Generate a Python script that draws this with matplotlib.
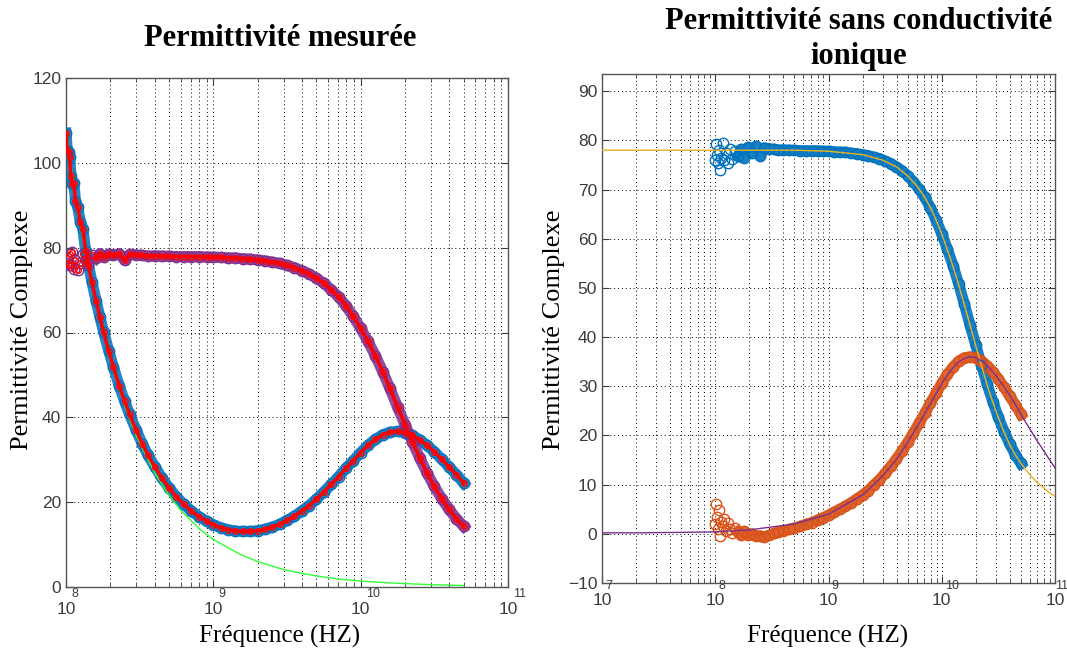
import math
import matplotlib
matplotlib.use("Agg")
import matplotlib.pyplot as plt
from matplotlib.ticker import LogLocator, FixedLocator, FixedFormatter, NullFormatter
from matplotlib.transforms import blended_transform_factory, offset_copy

# ---------------- data (frequencies in GHz) ----------------
freq_ghz = [0.100, 0.102, 0.104, 0.106, 0.108, 0.110, 0.113, 0.116, 0.120, 0.125,
            0.130, 0.136, 0.142, 0.150, 0.160, 0.170, 0.180, 0.195, 0.21, 0.23,
            0.25, 0.27, 0.30, 0.33, 0.36, 0.40, 0.45, 0.50, 0.56, 0.63,
            0.71, 0.80, 0.90, 1.00, 1.12, 1.26, 1.41, 1.58, 1.78, 2.00,
            2.24, 2.51, 2.82, 3.16, 3.55, 3.98, 4.47, 5.01, 5.62, 6.31,
            7.08, 7.94, 8.91, 10.0, 11.2, 12.6, 14.1, 15.8, 17.8, 20.0,
            22.4, 25.1, 28.2, 31.6, 35.5, 39.8, 44.7, 50.0]

# left panel: measured permittivity
meas_real = [76.5, 77.5, 75.8, 78.5, 76.0, 79.0, 75.0, 77.0, 74.8, 76.5,
             78.5, 77.2, 76.0, 78.3, 77.5, 78.6, 77.8, 78.5, 78.2, 78.6,
             77.0, 78.4, 78.3, 78.2, 78.0, 78.1, 78.0, 78.0, 77.9, 77.9,
             77.9, 77.9, 77.8, 77.8, 77.7, 77.6, 77.6, 77.4, 77.3, 77.1,
             76.9, 76.6, 76.3, 75.8, 75.3, 74.6, 73.8, 72.8, 71.6, 70.1,
             68.4, 66.3, 63.8, 61.0, 57.9, 54.5, 50.8, 46.8, 42.4, 38.3,
             34.3, 30.5, 26.9, 23.7, 20.8, 18.3, 16.1, 14.3]
meas_imag = [107.0, 103.0, 102.6, 101.3, 97.0, 95.0, 95.2, 91.0, 89.7, 86.1,
             84.5, 79.2, 76.0, 71.9, 67.5, 63.6, 60.1, 55.7, 51.8, 47.4,
             43.8, 40.7, 36.9, 33.7, 31.1, 28.4, 25.6, 23.4, 21.3, 19.5,
             17.9, 16.6, 15.5, 14.7, 14.0, 13.5, 13.2, 13.1, 13.1, 13.3,
             13.6, 14.1, 14.8, 15.7, 16.7, 17.9, 19.2, 20.7, 22.4, 24.2,
             26.0, 28.0, 29.8, 31.7, 33.4, 34.8, 35.9, 36.5, 36.7, 36.4,
             35.8, 34.7, 33.4, 31.9, 30.1, 28.3, 26.5, 24.5]

# left panel: ionic conductivity term
cond_f_ghz = [0.1, 0.12, 0.15, 0.2, 0.25, 0.3, 0.4, 0.5, 0.6, 0.8, 1.0, 1.5,
              2.0, 3.0, 4.0, 5.0, 7.0, 10.0, 15.0, 20.0, 30.0, 50.0]
cond_v = [107.0, 89.0, 71.3, 53.5, 42.8, 35.7, 26.9, 21.6, 18.1, 13.8, 11.2, 7.8,
          6.0, 4.1, 3.2, 2.6, 1.9, 1.4, 1.0, 0.8, 0.55, 0.35]

# right panel: permittivity without ionic conductivity
corr_real = [76.0, 79.2, 77.0, 75.5, 78.0, 74.0, 76.5, 79.5, 76.0, 77.5,
             75.5, 78.3, 76.3, 77.8, 76.8, 78.2, 76.5, 78.6, 77.5, 78.8,
             76.8, 78.5, 78.3, 78.2, 78.0, 78.1, 78.0, 78.0, 77.9, 77.9,
             77.9, 77.9, 77.8, 77.8, 77.7, 77.6, 77.6, 77.4, 77.3, 77.1,
             76.9, 76.6, 76.3, 75.8, 75.3, 74.6, 73.8, 72.8, 71.6, 70.1,
             68.4, 66.3, 63.8, 61.0, 57.9, 54.5, 50.8, 46.8, 42.4, 38.3,
             34.3, 30.5, 26.9, 23.7, 20.8, 18.3, 16.1, 14.3]
corr_imag = [2.0, 6.0, 3.5, 1.0, 4.8, -0.5, 2.5, 1.5, 3.0, 0.5,
             2.2, 1.0, 0.2, 1.2, 0.3, -0.2, 0.5, -0.3, 0.0, -0.5,
             -0.4, -0.6, -0.3, 0.1, 0.3, 0.6, 0.9, 1.2, 1.5, 1.9,
             2.3, 2.8, 3.3, 3.8, 4.4, 5.0, 5.6, 6.3, 7.1, 7.9,
             8.8, 9.9, 11.0, 12.3, 13.7, 15.2, 16.9, 18.6, 20.5, 22.5,
             24.5, 26.6, 28.6, 30.6, 32.4, 33.9, 35.1, 35.8, 36.0, 35.8,
             35.2, 34.2, 33.0, 31.5, 29.8, 28.0, 26.2, 24.3]

# right panel: model fits
fit_f_ghz = [0.01, 0.02, 0.05, 0.1, 0.2, 0.5, 1, 2, 3, 4, 5, 6, 7, 8, 9, 10, 12, 14,
             16, 18, 20, 23, 26, 30, 35, 40, 45, 50, 60, 70, 80, 90, 100]
fit_real = [78.0, 78.0, 78.0, 78.0, 78.0, 78.0, 77.8, 77.1, 76.0, 74.6, 72.8, 70.8,
            68.6, 66.2, 63.6, 61.0, 55.8, 50.9, 46.2, 42.0, 38.2, 33.3, 29.2, 25.0,
            21.0, 18.0, 15.9, 14.3, 12.0, 10.4, 9.3, 8.3, 7.6]
fit_imag = [0.2, 0.2, 0.3, 0.4, 0.8, 2.0, 4.0, 7.9, 11.7, 15.2, 18.6, 21.6, 24.2,
            26.6, 28.7, 30.6, 33.2, 34.9, 35.7, 36.0, 35.8, 35.0, 33.9, 32.2, 30.1,
            28.1, 26.2, 24.3, 21.3, 18.8, 16.8, 15.0, 13.4]

left_xticks = [1e8, 1e9, 1e10, 1e11]
right_xticks = [1e7, 1e8, 1e9, 1e10, 1e11]
left_yticks = [0, 20, 40, 60, 80, 100, 120]
right_yticks = [-10, 0, 10, 20, 30, 40, 50, 60, 70, 80, 90]

# ---------------- style ----------------
BLUE = "#0072BD"
ORANGE = "#D95319"
YELLOW = "#EDB120"
PURPLE = "#7E2F8E"
RED = "#FF0000"
GREEN = "#33FF33"
TICK_COLOR = "#3c3c3c"
SERIF = ["Liberation Serif", "DejaVu Serif"]
SANS = ["Liberation Sans", "DejaVu Sans"]

plt.rcParams["font.family"] = SANS

fig = plt.figure(figsize=(10.67, 6.54), dpi=100)
W, H = 1067.0, 654.0

def axes_px(x0, y0, x1, y1):
    return fig.add_axes([x0 / W, 1 - y1 / H, (x1 - x0) / W, (y1 - y0) / H])

def hz(lst):
    return [v * 1e9 for v in lst]

def style_axes(ax, xlim, ylim, xticks, yticks, exp_dx, exp_dy, base_pad, last_dx=None):
    ax.set_xscale("log")
    ax.set_xlim(*xlim)
    ax.set_ylim(*ylim)
    ax.yaxis.set_major_locator(FixedLocator(yticks))
    ax.xaxis.set_major_locator(FixedLocator(xticks))
    ax.xaxis.set_major_formatter(FixedFormatter(["10"] * len(xticks)))
    ax.xaxis.set_minor_locator(LogLocator(base=10, subs=range(2, 10), numticks=50))
    ax.xaxis.set_minor_formatter(NullFormatter())
    ax.grid(True, which="major", axis="both", color="black", linestyle=(0, (1, 3)), linewidth=0.7)
    ax.grid(True, which="minor", axis="x", color="black", linestyle=(0, (1, 3)), linewidth=0.7)
    ax.tick_params(which="both", direction="in", top=True, right=True, colors=TICK_COLOR,
                   labelsize=12.5)
    ax.tick_params(which="major", length=5)
    ax.tick_params(which="minor", length=3)
    ax.tick_params(axis="x", pad=base_pad)
    for s in ax.spines.values():
        s.set_color("#555555")
        s.set_linewidth(1.0)
    ax.set_axisbelow(True)
    # exponents of the "10" tick labels, MATLAB style
    base_tr = blended_transform_factory(ax.transData, ax.transAxes)
    for i, v in enumerate(xticks):
        dx = exp_dx
        if last_dx is not None and i == len(xticks) - 1:
            dx = last_dx
        tr = offset_copy(base_tr, fig=fig, x=dx, y=-exp_dy, units="dots")
        ax.text(v, 0, "%d" % round(math.log10(v)), transform=tr, ha="left", va="top",
                fontsize=9, color=TICK_COLOR, clip_on=False)

# ---------------- left panel ----------------
axL = axes_px(66, 78, 508, 587)
style_axes(axL, (1e8, 1e11), (0, 120), left_xticks, left_yticks, 5, 1, 11)

fH = hz(freq_ghz)
axL.plot(fH, meas_imag, color=BLUE, lw=8, alpha=0.85, zorder=2)
axL.plot(fH, meas_imag, "o", mfc="none", mec=BLUE, ms=7.5, mew=1.0, zorder=3)
axL.plot(hz(cond_f_ghz), cond_v, color=GREEN, lw=1.0, zorder=4)
axL.plot(fH[14:], meas_real[14:], color=PURPLE, lw=8, alpha=0.85, zorder=5)
axL.plot(fH, meas_real, "o", mfc="none", mec=PURPLE, ms=7.5, mew=1.0, zorder=6)
axL.plot(fH, meas_imag, "o", mfc="none", mec=RED, ms=4.0, mew=1.0, zorder=7)
axL.plot(fH, meas_real, "o", mfc="none", mec=RED, ms=4.0, mew=1.0, zorder=7)
axL.plot(fH, meas_imag, color=RED, lw=2.5, zorder=7)
axL.plot(fH[14:], meas_real[14:], color=RED, lw=2.5, zorder=7)

# ---------------- right panel ----------------
axR = axes_px(602, 74, 1055, 583)
style_axes(axR, (1e7, 1e11), (-10, 93.5), right_xticks, right_yticks, 3, -3, 7, last_dx=0)

axR.plot(fH[14:], corr_real[14:], color=BLUE, lw=8, alpha=0.9, zorder=2)
axR.plot(fH, corr_real, "o", mfc="none", mec=BLUE, ms=7.5, mew=1.0, zorder=3)
axR.plot(fH[14:], corr_imag[14:], color=ORANGE, lw=8, alpha=0.9, zorder=2)
axR.plot(fH, corr_imag, "o", mfc="none", mec=ORANGE, ms=7.5, mew=1.0, zorder=3)
axR.plot(hz(fit_f_ghz), fit_real, color=YELLOW, lw=1.0, zorder=5)
axR.plot(hz(fit_f_ghz), fit_imag, color=PURPLE, lw=1.0, zorder=5)

# ---------------- texts ----------------
fig.text(280 / W, 1 - 39 / H, "Permittivité mesurée", ha="center", va="center",
         family=SERIF, weight="bold", fontsize=22)
fig.text(859 / W, 1 - 39 / H, "Permittivité sans conductivité\nionique", ha="center",
         va="center", family=SERIF, weight="bold", fontsize=22, linespacing=1.3)
fig.text(22 / W, 1 - 330 / H, "Permittivité Complexe", rotation=90, ha="center",
         va="center", family=SERIF, fontsize=19)
fig.text(554 / W, 1 - 330 / H, "Permittivité Complexe", rotation=90, ha="center",
         va="center", family=SERIF, fontsize=19)
fig.text(280 / W, 1 - 636 / H, "Fréquence (HZ)", ha="center", va="center",
         family=SERIF, fontsize=18)
fig.text(828 / W, 1 - 636 / H, "Fréquence (HZ)", ha="center", va="center",
         family=SERIF, fontsize=18)

fig.savefig("out.png", dpi=100)
